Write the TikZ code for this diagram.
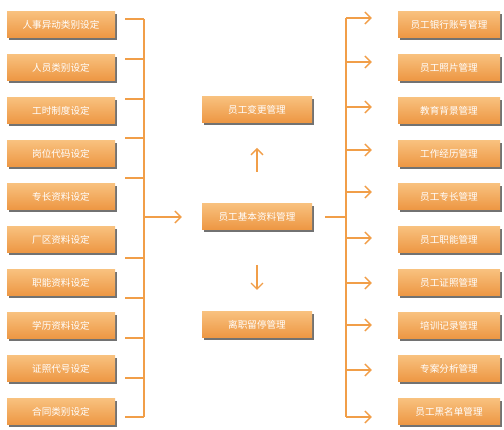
\documentclass[tikz,border=0pt]{standalone}
\usepackage{fontspec}
\newfontfamily\cjk{Noto Sans CJK SC}
\usetikzlibrary{arrows.meta,shadows,calc}
\definecolor{boxtop}{RGB}{248,192,125}
\definecolor{boxbot}{RGB}{237,150,66}
\definecolor{lineor}{RGB}{241,158,72}
\begin{document}
\begin{tikzpicture}[x=1pt,y=-1pt,
  box/.style={rectangle, draw=none, top color=boxtop, bottom color=boxbot,
    text=white, font=\cjk\fontsize{9.6}{10}\selectfont, minimum height=26pt, inner sep=0pt,
    drop shadow={shadow xshift=1.6pt, shadow yshift=-1.8pt, fill=black!65, opacity=0.85}},
  lbox/.style={box, minimum width=108pt},
  mbox/.style={box, minimum width=110pt},
  rbox/.style={box, minimum width=102pt},
  conn/.style={draw=lineor, line width=1.6pt},
  arr/.style={conn, -{Straight Barb[length=6pt,width=12pt,line width=1.4pt]}}
]
\useasboundingbox (0,0) rectangle (504,430);
% left boxes
\foreach \t [count=\i from 0] in {人事异动类别设定,人员类别设定,工时制度设定,岗位代码设定,专长资料设定,厂区资料设定,职能资料设定,学历资料设定,证照代号设定,合同类别设定}{
  \node[lbox] (L\i) at (61,{25+43*\i}) {\t};
}
% right boxes
\foreach \t [count=\i from 0] in {员工银行账号管理,员工照片管理,教育背景管理,工作经历管理,员工专长管理,员工职能管理,员工证照管理,培训记录管理,专案分析管理,员工黑名单管理}{
  \node[rbox] (R\i) at (449,{25+43*\i}) {\t};
}
% middle boxes
\node[mbox] (MT) at (257,110) {员工变更管理};
\node[mbox] (MC) at (257,217) {员工基本资料管理};
\node[mbox] (MB) at (257,325) {离职留停管理};
% left bus
\coordinate (LBt) at (144,19);
\coordinate (LBb) at (144,417);
\draw[conn] (LBt) -- (LBb);
\foreach \y [count=\i from 0] in {19,59,99,138,178,258,298,338,378,417}{
  \coordinate (LT\i) at (125,\y);
  \draw[conn] (LT\i) -- (144,\y);
}
\coordinate (LBm) at (144,217);
\draw[arr] (LBm) -- ($(MC.west)+(-20,0)$);
% middle arrows
\coordinate (UAs) at (257,172);
\coordinate (UAe) at (257,148);
\draw[arr] (UAs) -- (UAe);
\coordinate (DAs) at (257,265);
\coordinate (DAe) at (257,290);
\draw[arr] (DAs) -- (DAe);
% right bus
\coordinate (RBm) at (346,217);
\draw[conn] ($(MC.east)+(13,0)$) -- (RBm);
\draw[conn] (346,18) -- (346,417);
\foreach \y [count=\i from 0] in {18,62,107,150,192,238,283,325,370,417}{
  \draw[arr] (346,\y) -- ($(R\i.west)+(-26,\y-25-43*\i)$);
}
\end{tikzpicture}
\end{document}
